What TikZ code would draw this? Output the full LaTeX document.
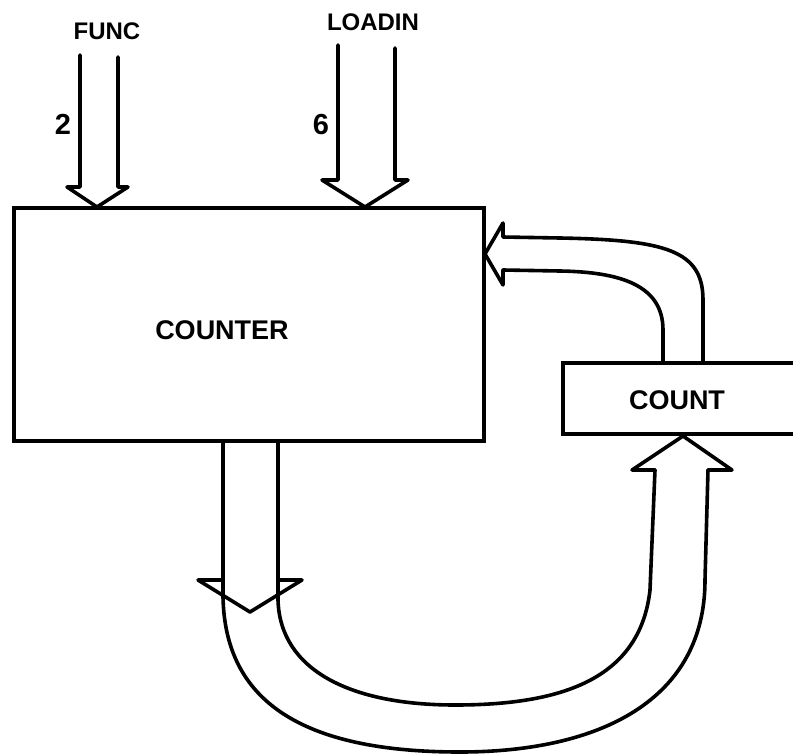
\documentclass[tikz,border=0pt]{standalone}
\usepackage{fontspec}
\setmainfont{Liberation Sans}
\begin{document}
\begin{tikzpicture}[x=1pt,y=-1pt,
  wire/.style={line width=3.6pt, line join=round, line cap=round},
  boxstyle/.style={draw, line width=3.6pt, inner sep=0pt, outer sep=0pt},
  bigtext/.style={font=\fontsize{27}{31}\selectfont\bfseries, inner sep=0pt},
  smalltext/.style={font=\fontsize{24}{28}\selectfont\bfseries, inner sep=0pt},
  digittext/.style={font=\fontsize{29}{33}\selectfont\bfseries, inner sep=0pt}]
\useasboundingbox (0,0) rectangle (793,755);
\clip (0,0) rectangle (793,755);

% COUNTER box
\node[boxstyle, minimum width=470pt, minimum height=233pt, anchor=north west] (counter) at (14,208) {};
\node[bigtext] (counterlabel) at (222,330) {COUNTER};

% COUNT box (open to the right edge)
\draw[line width=3.6pt, line join=miter] (800,363) -- (563,363) -- (563,434) -- (800,434);
\node[bigtext] (count) at (677,400) {COUNT};

% labels
\node[smalltext] (func) at (107,31) {FUNC};
\node[smalltext] (loadin) at (373,22) {LOADIN};
\node[digittext] (two) at (63,124) {2};
\node[digittext] (six) at (321,125) {6};

% named tip coordinates
\coordinate (functip) at (97,207);
\coordinate (loadtip) at (365,207);
\coordinate (backtip) at (485,254);
\coordinate (outtip) at (250,612);
\coordinate (intip) at (683,436);

% FUNC bus arrow
\draw[wire] (80,55) -- (80,187) -- (67,187) -- (functip) -- (128,187) -- (118,187) -- (118,57);

% LOADIN bus arrow
\draw[wire] (338,45) -- (338,180) -- (322,180) -- (loadtip) -- (408,180) -- (395,180) -- (395,48);

% COUNT -> COUNTER feedback arrow
\draw[wire] (703,363) -- (703,300) .. controls (703,250) and (665,240) .. (560,238) -- (503,237)
  -- (503,223) -- (backtip) -- (503,285) -- (503,270) -- (560,271)
  .. controls (620,272) and (663,285) .. (663,330) -- (663,363);

% COUNTER -> COUNT U-shaped bus
\draw[wire] (223,441) -- (223,597) .. controls (225,700) and (300,752) .. (460,752)
  .. controls (600,752) and (705,700) .. (705,580) -- (708,470);
\draw[wire] (278,441) -- (278,600) .. controls (280,670) and (350,705) .. (455,705)
  .. controls (560,705) and (640,680) .. (650,590) -- (655,470);
% down arrowhead
\draw[wire] (223,580) -- (198,580) -- (outtip) -- (302,580) -- (278,580);
% up arrowhead
\draw[wire] (655,470) -- (632,470) -- (intip) -- (732,470) -- (708,470);
\end{tikzpicture}
\end{document}
